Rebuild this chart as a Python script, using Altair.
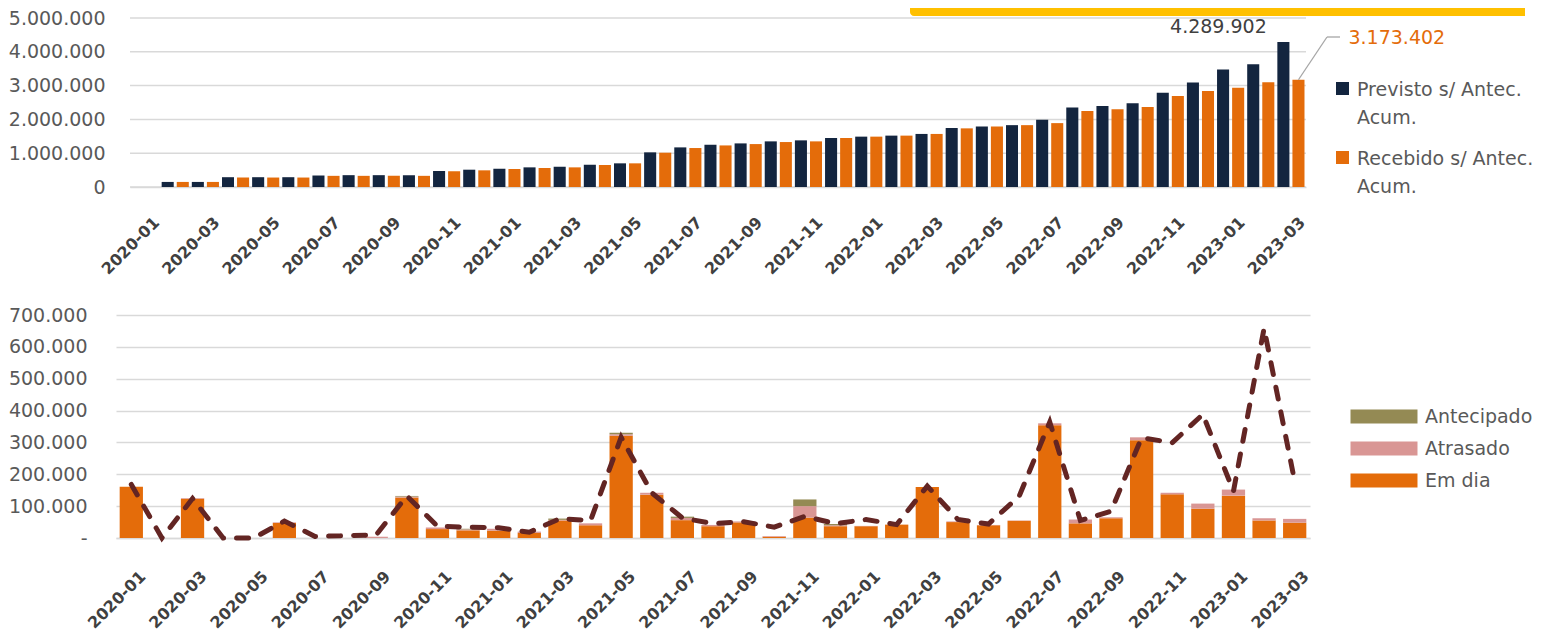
import altair as alt
import pandas as pd

months = ["2020-01", "2020-02", "2020-03", "2020-04", "2020-05", "2020-06", "2020-07", "2020-08",
          "2020-09", "2020-10", "2020-11", "2020-12", "2021-01", "2021-02", "2021-03", "2021-04",
          "2021-05", "2021-06", "2021-07", "2021-08", "2021-09", "2021-10", "2021-11", "2021-12",
          "2022-01", "2022-02", "2022-03", "2022-04", "2022-05", "2022-06", "2022-07", "2022-08",
          "2022-09", "2022-10", "2022-11", "2022-12", "2023-01", "2023-02", "2023-03"]

# ---- top panel: accumulated values ----
series_top = ["Previsto s/ Antec. Acum.", "Recebido s/ Antec. Acum."]
previsto_acum = [None, 150000, 150000, 290000, 290000, 290000, 340000, 350000, 350000, 350000,
                 473000, 512000, 542000, 581000, 601000, 660000, 700000, 1025000, 1172000, 1250000,
                 1290000, 1350000, 1380000, 1450000, 1490000, 1520000, 1570000, 1745000, 1790000, 1830000,
                 1990000, 2350000, 2400000, 2480000, 2790000, 3090000, 3480000, 3630000, 4289902]
recebido_acum = [None, 150000, 150000, 280000, 280000, 280000, 330000, 330000, 330000, 330000,
                 463000, 493000, 532000, 562000, 581000, 650000, 700000, 1015000, 1153000, 1230000,
                 1270000, 1330000, 1350000, 1450000, 1490000, 1520000, 1570000, 1735000, 1790000, 1830000,
                 1890000, 2250000, 2300000, 2370000, 2690000, 2840000, 2940000, 3100000, 3173402]
top_ticks = [0, 1000000, 2000000, 3000000, 4000000, 5000000]

# ---- bottom panel: monthly values ----
categories = ["Antecipado", "Atrasado", "Em dia"]
em_dia = [161000, 0, 123000, 0, 0, 47000, 0, 0, 0, 127000, 28000, 24000, 23000, 16000, 55000, 40000,
          321000, 136000, 56000, 37000, 49000, 4000, 64000, 37000, 37000, 42000, 160000, 50000, 40000,
          54000, 354000, 46000, 62000, 307000, 137000, 92000, 133000, 55000, 48000]
atrasado = [0, 0, 2000, 0, 0, 2000, 0, 0, 4000, 3000, 5000, 3000, 6000, 4000, 2000, 6000, 5000, 6000,
            7000, 4000, 3000, 2000, 36000, 3000, 1000, 0, 0, 2000, 1000, 1000, 6000, 12000, 3000, 9000,
            5000, 16000, 19000, 7000, 12000]
antecipado = [0, 0, 0, 0, 0, 0, 0, 0, 0, 2000, 0, 2000, 0, 0, 4000, 0, 4000, 0, 4000, 0, 0, 0, 21000,
              4000, 0, 0, 0, 0, 0, 0, 0, 0, 0, 0, 0, 0, 0, 0, 0]
previsto_mensal = [168000, 0, 124000, 0, 0, 53000, 5000, 7000, 10000, 132000, 37000, 34000, 32000, 18000,
                   61000, 55000, 316000, 142000, 63000, 45000, 51000, 34000, 68000, 45000, 58000, 42000,
                   163000, 58000, 44000, 131000, 364000, 55000, 84000, 315000, 299000, 388000, 147000,
                   658000, 178000]
bottom_ticks = [0, 100000, 200000, 300000, 400000, 500000, 600000, 700000]

NAVY = "#13253F"
ORANGE = "#E46C0A"
OLIVE = "#948A54"
PINK = "#D99694"
MAROON = "#632523"
GRID = "#D9D9D9"
FONT = "DejaVu Sans"
DOTS = "join(split(format(datum.value, ',.0f'), ','), '.')"

top_df = pd.DataFrame({
    "mes": months * 2,
    "serie": [series_top[0]] * len(months) + [series_top[1]] * len(months),
    "valor": previsto_acum + recebido_acum,
})


def x_axis(pad):
    return alt.Axis(values=months[::2], labelAngle=-45, labelFont=FONT, labelFontSize=16,
                    labelFontWeight="bold", labelColor="#404040", ticks=False,
                    domainColor=GRID, domainWidth=1.5, labelPadding=pad, labelOffset=6,
                    grid=False)


x_top = alt.X("mes:N", sort=months, title=None,
              scale=alt.Scale(domain=months, range=[14, 1190], paddingInner=0, paddingOuter=0),
              axis=x_axis(27))
xo_top = alt.XOffset("serie:N", sort=series_top,
                     scale=alt.Scale(domain=series_top, paddingInner=0.2, paddingOuter=0.1))
y_top = alt.Y("valor:Q", title=None,
              scale=alt.Scale(domain=[0, 5000000], nice=False),
              axis=alt.Axis(values=top_ticks, labelExpr=DOTS, labelFont=FONT, labelFontSize=19,
                            labelColor="#595959", ticks=False, domain=False, labelPadding=11,
                            grid=False))

grid_top = alt.Chart(pd.DataFrame({"valor": top_ticks})).mark_rule(
    color=GRID, strokeWidth=1.5).encode(y=y_top, x=alt.value(14), x2=alt.value(1190))

bars_top = alt.Chart(top_df).mark_bar().encode(
    x=x_top, xOffset=xo_top, y=y_top,
    color=alt.Color("serie:N", sort=series_top,
                    scale=alt.Scale(domain=series_top, range=[NAVY, ORANGE]),
                    legend=alt.Legend(title=None, orient="none", legendX=1217, legendY=68,
                                      symbolType="M-1,-2.08H1V-0.08H-1Z", symbolSize=169,
                                      symbolStrokeWidth=0, labelFont=FONT, labelFontSize=19,
                                      labelColor="#595959", labelBaseline="alphabetic",
                                      labelOffset=5, rowPadding=21, padding=0, labelLimit=300,
                                      labelExpr="[slice(datum.label, 0, -6), 'Acum.']")),
)

last_df = top_df[top_df["mes"] == months[-1]]
lab_prev = alt.Chart(last_df).transform_filter(
    alt.datum.serie == series_top[0]
).transform_calculate(txt=DOTS.replace("datum.value", "datum.valor")).mark_text(
    font=FONT, fontSize=19, color="#404040", dx=-65, dy=-15, align="center", baseline="middle"
).encode(x=x_top, xOffset=xo_top, y=y_top, text="txt:N")

lab_rec = alt.Chart(last_df).transform_filter(
    alt.datum.serie == series_top[1]
).transform_calculate(txt=DOTS.replace("datum.value", "datum.valor")).mark_text(
    font=FONT, fontSize=19, color=ORANGE, dx=50, dy=-42, align="left", baseline="middle"
).encode(x=x_top, xOffset=xo_top, y=y_top, text="txt:N")

leader = alt.Chart(last_df).transform_filter(
    alt.datum.serie == series_top[1]
).mark_rule(color="#A6A6A6", strokeWidth=1.3).encode(
    x=x_top, xOffset=xo_top, y=y_top, x2=alt.value(1211), y2=alt.value(19))
leader2 = alt.Chart(last_df).transform_filter(
    alt.datum.serie == series_top[1]
).mark_rule(color="#A6A6A6", strokeWidth=1.3).encode(
    x=alt.value(1211), x2=alt.value(1224), y=alt.value(19))

banner = alt.Chart(pd.DataFrame({"k": [0]})).mark_rect(
    color="#FFC000", cornerRadiusBottomLeft=8).encode(
    x=alt.value(794), x2=alt.value(1409), y=alt.value(-10), y2=alt.value(-2))

top = alt.layer(banner, grid_top, bars_top, leader, leader2, lab_prev, lab_rec).properties(
    width=1190, height=169)

# ---- bottom ----
rows = []
for i, m in enumerate(months):
    rows.append({"mes": m, "cat": "Em dia", "valor": em_dia[i], "ord": 0})
    rows.append({"mes": m, "cat": "Atrasado", "valor": atrasado[i], "ord": 1})
    rows.append({"mes": m, "cat": "Antecipado", "valor": antecipado[i], "ord": 2})
bot_df = pd.DataFrame(rows)
line_df = pd.DataFrame({"mes": months, "valor": previsto_mensal})

x_bot = alt.X("mes:N", sort=months, title=None,
              scale=alt.Scale(domain=months, paddingInner=0.24, paddingOuter=0.12), axis=x_axis(30))
y_axis_bot = alt.Axis(values=bottom_ticks,
                      labelExpr="datum.value == 0 ? '-' : " + DOTS,
                      labelFont=FONT, labelFontSize=19, labelColor="#595959",
                      ticks=False, domain=False, labelPadding=29, gridColor=GRID,
                      gridWidth=1.5, labelOverlap=False)
y_scale_bot = alt.Scale(domain=[0, 700000], nice=False)

bars_bot = alt.Chart(bot_df).mark_bar().encode(
    x=x_bot,
    y=alt.Y("valor:Q", title=None, stack="zero", scale=y_scale_bot, axis=y_axis_bot),
    color=alt.Color("cat:N", sort=categories,
                    scale=alt.Scale(domain=categories, range=[OLIVE, PINK, ORANGE]),
                    legend=alt.Legend(title=None, orient="none", legendX=1232, legendY=92,
                                      symbolType="M-1,-1H8.57V1H-1Z", symbolSize=196,
                                      symbolStrokeWidth=0, labelFont=FONT, labelFontSize=19,
                                      labelColor="#595959", labelOffset=58, rowPadding=12,
                                      padding=0)),
    order=alt.Order("ord:Q"),
)
line_bot = alt.Chart(line_df).mark_line(
    color=MAROON, strokeWidth=5, strokeDash=[12, 13], strokeCap="round"
).encode(x=x_bot, y=alt.Y("valor:Q", title=None, scale=y_scale_bot, axis=y_axis_bot))

bottom = alt.layer(bars_bot, line_bot).properties(width=1194, height=223)

chart = alt.concat(top, bottom, columns=1, spacing=28, align="none", bounds="full").resolve_scale(
    color="independent", x="independent", y="independent"
).properties(padding=0).configure(
    style={"guide-label": {"lineHeight": 28}}).configure_view(stroke=None)

chart.save("out.html", embed_options={"renderer": "svg", "actions": False})
